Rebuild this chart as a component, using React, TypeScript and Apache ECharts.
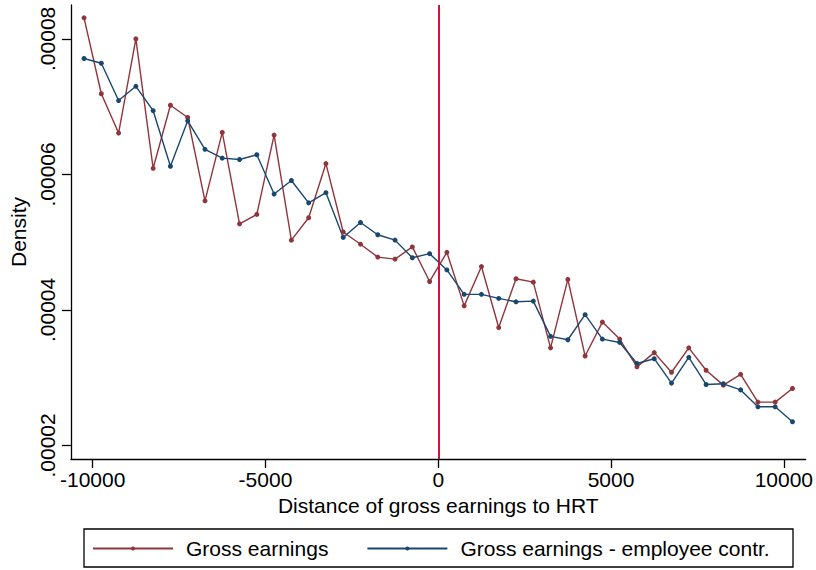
import React, { useEffect, useRef } from "react";
import * as echarts from "echarts";

// Bin midpoints: distance of gross earnings to HRT
const xValues = [
  -10250, -9750, -9250, -8750, -8250, -7750, -7250, -6750, -6250, -5750, -5250,
  -4750, -4250, -3750, -3250, -2750, -2250, -1750, -1250, -750, -250,
  250, 750, 1250, 1750, 2250, 2750, 3250, 3750, 4250, 4750,
  5250, 5750, 6250, 6750, 7250, 7750, 8250, 8750, 9250, 9750, 10250,
];

// Density — Gross earnings
const grossEarnings = [
  8.31e-5, 7.19e-5, 6.61e-5, 8.0e-5, 6.09e-5, 7.02e-5, 6.84e-5, 5.61e-5, 6.62e-5, 5.27e-5, 5.41e-5,
  6.58e-5, 5.03e-5, 5.36e-5, 6.16e-5, 5.15e-5, 4.97e-5, 4.78e-5, 4.75e-5, 4.93e-5, 4.42e-5,
  4.85e-5, 4.06e-5, 4.64e-5, 3.74e-5, 4.46e-5, 4.41e-5, 3.44e-5, 4.45e-5, 3.32e-5, 3.82e-5,
  3.57e-5, 3.16e-5, 3.37e-5, 3.08e-5, 3.44e-5, 3.11e-5, 2.89e-5, 3.05e-5, 2.64e-5, 2.64e-5, 2.84e-5,
];

// Density — Gross earnings - employee contr.
const grossMinusContr = [
  7.71e-5, 7.64e-5, 7.09e-5, 7.3e-5, 6.94e-5, 6.12e-5, 6.79e-5, 6.37e-5, 6.24e-5, 6.22e-5, 6.29e-5,
  5.71e-5, 5.91e-5, 5.58e-5, 5.73e-5, 5.07e-5, 5.29e-5, 5.11e-5, 5.03e-5, 4.77e-5, 4.83e-5,
  4.59e-5, 4.23e-5, 4.23e-5, 4.17e-5, 4.12e-5, 4.13e-5, 3.61e-5, 3.56e-5, 3.93e-5, 3.57e-5,
  3.52e-5, 3.21e-5, 3.28e-5, 2.92e-5, 3.3e-5, 2.9e-5, 2.91e-5, 2.82e-5, 2.57e-5, 2.57e-5, 2.35e-5,
];

const xTicks = [-10000, -5000, 0, 5000, 10000];
const yTicks = [0.00002, 0.00004, 0.00006, 0.00008];
const seriesNames = ["Gross earnings", "Gross earnings - employee contr."];
const thresholdX = 0;

const FONT = "'Liberation Sans', Arial, sans-serif";
const RED = "#90353b";
const BLUE = "#1a476f";

export default function App() {
  const ref = useRef<HTMLDivElement>(null);

  useEffect(() => {
    if (!ref.current) return;
    const chart = echarts.init(ref.current, undefined, { renderer: "svg" });
    const toPairs = (ys: number[]) => xValues.map((x, i) => [x, ys[i]]);

    chart.setOption({
      animation: false,
      backgroundColor: "#ffffff",
      grid: { left: 70, right: 9, top: 5, bottom: 111, containLabel: false },
      xAxis: {
        type: "value",
        min: -10630,
        max: 10630,
        name: "Distance of gross earnings to HRT",
        nameLocation: "middle",
        nameGap: 34,
        nameTextStyle: { fontFamily: FONT, fontSize: 21, color: "#000" },
        axisLine: { show: true, onZero: false, lineStyle: { color: "#000", width: 1.3 } },
        axisTick: { show: true, length: 9, customValues: xTicks, lineStyle: { color: "#000", width: 1.3 } },
        axisLabel: {
          customValues: xTicks,
          margin: 10,
          fontFamily: FONT,
          fontSize: 21,
          color: "#000",
          formatter: (v: number) => String(Math.round(v)),
        },
        splitLine: { show: false },
      },
      yAxis: {
        type: "value",
        min: 0.000018,
        max: 0.000085,
        name: "Density",
        nameLocation: "middle",
        nameGap: 32,
        nameTextStyle: { fontFamily: FONT, fontSize: 21, color: "#000" },
        axisLine: { show: true, onZero: false, lineStyle: { color: "#000", width: 1.3 } },
        axisTick: { show: true, length: 9, customValues: yTicks, lineStyle: { color: "#000", width: 1.3 } },
        axisLabel: {
          customValues: yTicks,
          rotate: 90,
          margin: 13,
          fontFamily: FONT,
          fontSize: 21,
          color: "#000",
          formatter: (v: number) => v.toFixed(5).replace(/^0/, ""),
        },
        splitLine: { show: false },
      },
      legend: {
        left: 92,
        top: 538,
        padding: 0,
        itemWidth: 80,
        itemHeight: 5,
        itemGap: 38,
        textStyle: { fontFamily: FONT, fontSize: 21, color: "#000", padding: [0, 0, 0, 8] },
        data: seriesNames,
      },
      graphic: [
        {
          type: "rect",
          shape: { x: 84, y: 529, width: 709, height: 38 },
          style: { fill: "none", stroke: "#000", lineWidth: 1.3 },
          silent: true,
        },
      ],
      series: [
        {
          name: seriesNames[0],
          type: "line",
          data: toPairs(grossEarnings),
          symbol: "circle",
          symbolSize: 5,
          showSymbol: true,
          lineStyle: { color: RED, width: 1.4 },
          itemStyle: { color: RED },
          z: 3,
          markLine: {
            silent: true,
            z: 6,
            symbol: ["none", "none"],
            label: { show: false },
            lineStyle: { color: "#d0143c", width: 2, type: "solid" },
            data: [{ xAxis: thresholdX }],
          },
        },
        {
          name: seriesNames[1],
          type: "line",
          data: toPairs(grossMinusContr),
          symbol: "circle",
          symbolSize: 5,
          showSymbol: true,
          lineStyle: { color: BLUE, width: 1.4 },
          itemStyle: { color: BLUE },
          z: 3,
          markLine: {
            silent: true,
            z: 1,
            symbol: ["none", "none"],
            label: { show: false },
            lineStyle: { color: "#e9eff1", width: 1.6, type: "solid" },
            data: yTicks.map((v) => ({ yAxis: v })),
          },
        },
      ],
    });

    return () => chart.dispose();
  }, []);

  return (
    <div
      ref={ref}
      style={{ position: "fixed", left: 0, top: 0, width: 816, height: 570, background: "#fff" }}
    />
  );
}
